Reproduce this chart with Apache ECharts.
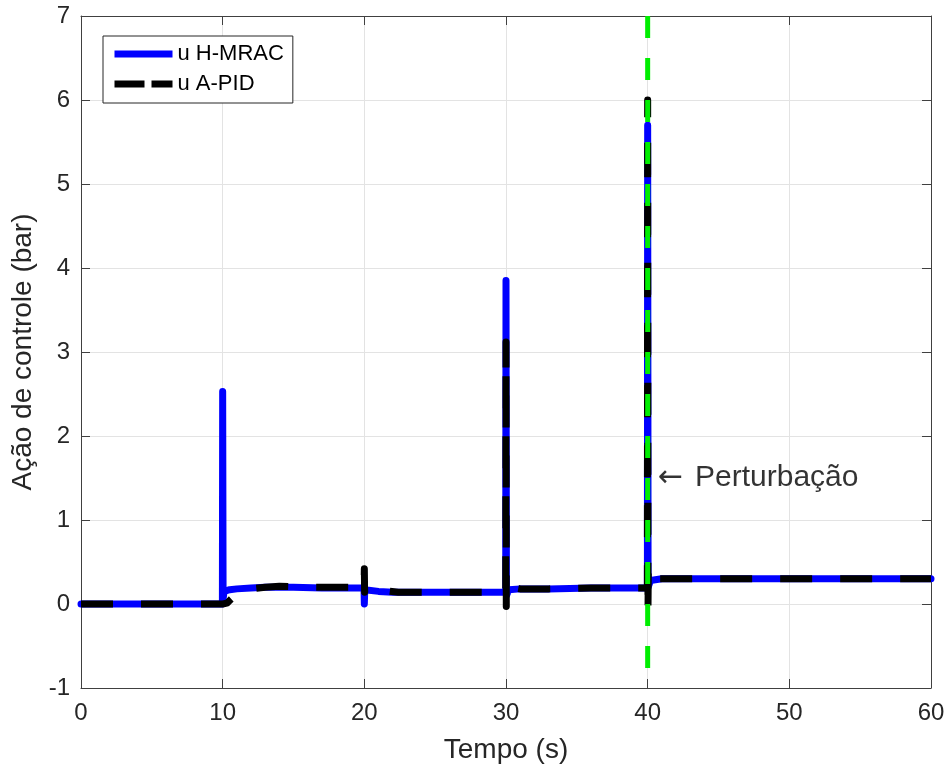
<!DOCTYPE html>
<html>
<head>
<meta charset="utf-8">
<script src="https://cdn.jsdelivr.net/npm/echarts@6/dist/echarts.min.js"></script>
<style>
  html, body { margin: 0; padding: 0; background: #fff; }
  #chart { width: 950px; height: 771px; }
</style>
</head>
<body>
<div id="chart"></div>
<script>
// ---- data ----
const xTicks = [0, 10, 20, 30, 40, 50, 60];
const yTicks = [-1, 0, 1, 2, 3, 4, 5, 6, 7];

const seriesNames = ['u H-MRAC', 'u A-PID'];

// u H-MRAC (blue, solid)
const tH = [0, 9.98, 10, 10.03, 10.1, 10.5, 11, 12, 13, 15, 17, 19.98, 20, 20.03, 21, 22, 25, 29.98, 30, 30.03, 30.2, 31, 33, 36, 39.98, 40, 40.03, 40.2, 41, 45, 50, 55, 60];
const uH = [0, 0, 2.53, 0.06, 0.15, 0.17, 0.18, 0.19, 0.2, 0.2, 0.19, 0.19, 0.0, 0.17, 0.15, 0.14, 0.14, 0.14, 3.85, 0.1, 0.17, 0.18, 0.18, 0.19, 0.19, 5.7, 0.2, 0.28, 0.3, 0.3, 0.3, 0.3, 0.3];

// u A-PID (black, dashed)
const tP = [0, 10, 10.3, 10.6, 11, 11.5, 12, 13, 14, 16, 19.98, 20, 20.02, 20.05, 21, 22.4, 25, 29.98, 30, 30.02, 30.05, 30.4, 31, 33, 36, 39.98, 40, 40.02, 40.05, 40.15, 40.4, 41, 45, 50, 55, 60];
const uP = [0, 0, 0.01, 0.06, 0.12, 0.16, 0.18, 0.2, 0.21, 0.2, 0.2, 0.42, 0.14, 0.2, 0.17, 0.14, 0.14, 0.14, 3.12, -0.03, 0.17, 0.2, 0.18, 0.18, 0.19, 0.19, 6.0, -0.12, 0.45, 0.35, 0.3, 0.3, 0.3, 0.3, 0.3, 0.3];

// disturbance marker (drawn top to bottom)
const perturbT = [40, 40];
const perturbU = [7, -1];
const annotT = [40.65];
const annotU = [1.5];
const annotArrow = ['←'];
const annotText = ['Perturbação'];

// ---- chart ----
const FONT = "'Liberation Sans', Arial, Helvetica, sans-serif";
const zip = (a, b) => a.map((v, i) => [v, b[i]]);

const chart = echarts.init(document.getElementById('chart'), null, { renderer: 'canvas' });

const axisLineC = { show: true, onZero: false, lineStyle: { color: '#404040', width: 1 } };
const axisTickC = { show: true, inside: true, length: 9, lineStyle: { color: '#404040', width: 1 } };

chart.setOption({
  animation: false,
  backgroundColor: '#fff',
  grid: { left: 81, right: 19, top: 16, bottom: 83, containLabel: false },
  xAxis: [
    {
      type: 'value', min: xTicks[0], max: xTicks[xTicks.length - 1], interval: 10,
      position: 'bottom', axisLine: axisLineC, axisTick: axisTickC,
      name: 'Tempo (s)', nameLocation: 'middle', nameGap: 48,
      nameTextStyle: { fontSize: 28, color: '#262626', fontFamily: FONT },
      axisLabel: { fontSize: 24, color: '#262626', fontFamily: FONT, margin: 13 },
      splitLine: { show: true, lineStyle: { color: '#e3e3e3', width: 1 } },
    },
    {
      type: 'value', min: xTicks[0], max: xTicks[xTicks.length - 1], interval: 10,
      position: 'top', axisLine: axisLineC, axisTick: axisTickC,
      axisLabel: { show: false }, splitLine: { show: false },
    },
  ],
  yAxis: [
    {
      type: 'value', min: yTicks[0], max: yTicks[yTicks.length - 1], interval: 1,
      position: 'left', axisLine: axisLineC, axisTick: axisTickC,
      name: 'Ação de controle (bar)', nameLocation: 'middle', nameGap: 40,
      nameTextStyle: { fontSize: 28, color: '#262626', fontFamily: FONT },
      axisLabel: { fontSize: 24, color: '#262626', fontFamily: FONT, margin: 11 },
      splitLine: { show: true, lineStyle: { color: '#e3e3e3', width: 1 } },
    },
    {
      type: 'value', min: yTicks[0], max: yTicks[yTicks.length - 1], interval: 1,
      position: 'right', axisLine: axisLineC, axisTick: axisTickC,
      axisLabel: { show: false }, splitLine: { show: false },
    },
  ],
  legend: {
    orient: 'vertical', left: 103, top: 36,
    padding: [7, 9, 8, 8], itemGap: 8, itemWidth: 58, itemHeight: 14,
    backgroundColor: '#fff', borderColor: '#262626', borderWidth: 1, borderRadius: 0,
    textStyle: { fontSize: 22, color: '#000', fontFamily: FONT },
    itemStyle: { opacity: 0, borderWidth: 0 },
    data: [
      { name: seriesNames[0], itemStyle: { opacity: 0 }, lineStyle: { color: '#0000ff', width: 7, type: 'solid', cap: 'butt' } },
      { name: seriesNames[1], itemStyle: { opacity: 0 }, lineStyle: { color: '#000', width: 7, type: [30, 7], cap: 'butt' } },
    ],
  },
  series: [
    {
      name: seriesNames[0], type: 'line', data: zip(tH, uH),
      showSymbol: false, symbol: 'none', z: 2,
      itemStyle: { color: '#0000ff' },
      lineStyle: { color: '#0000ff', width: 7, cap: 'round', join: 'round' },
    },
    {
      name: seriesNames[1], type: 'line', data: zip(tP, uP),
      showSymbol: false, symbol: 'none', z: 3,
      itemStyle: { color: '#000' },
      lineStyle: { color: '#000', width: 7, type: [32, 28], cap: 'butt', join: 'round' },
    },
    {
      name: 'perturbacao', type: 'line', data: zip(perturbT, perturbU),
      showSymbol: false, symbol: 'none', z: 4, silent: true,
      itemStyle: { color: '#00ee00' },
      lineStyle: { color: '#00ee00', width: 5, type: [22, 20], cap: 'butt' },
    },
    {
      name: 'annot', type: 'scatter', data: zip(annotT, annotU),
      symbolSize: 2, itemStyle: { color: 'rgba(0,0,0,0)' }, silent: true, z: 5,
      labelLayout: { hideOverlap: false },
      label: {
        show: true, position: 'right', distance: 0,
        formatter: () => '{a|' + annotArrow[0] + '}{t|' + annotText[0] + '}',
        color: '#000',
        rich: {
          a: { fontSize: 30, fontFamily: "'DejaVu Sans', sans-serif", color: '#000', padding: [0, 12, 0, 0] },
          t: { fontSize: 30, fontFamily: FONT, color: '#000' },
        },
      },
    },
  ],
});
</script>
</body>
</html>
